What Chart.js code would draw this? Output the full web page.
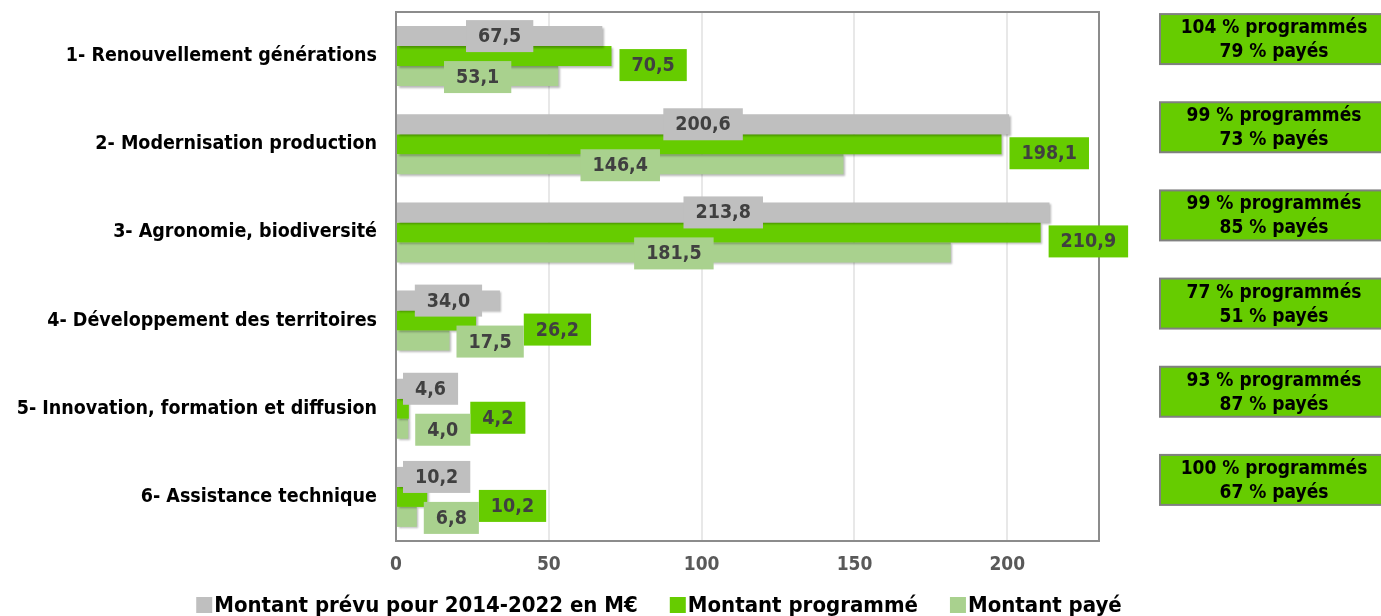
<!DOCTYPE html>
<html>
<head>
<meta charset="utf-8">
<script src="https://cdn.jsdelivr.net/npm/chart.js@4.4.1/dist/chart.umd.min.js"></script>
<style>
  html, body { margin: 0; padding: 0; background: #fff; }
  #wrap { width: 1381px; height: 616px; position: relative; }
</style>
</head>
<body>
<div id="wrap"><canvas id="axesChart"></canvas></div>
<script>
var categories = [
  "1- Renouvellement générations",
  "2- Modernisation production",
  "3- Agronomie, biodiversité",
  "4- Développement des territoires",
  "5- Innovation, formation et diffusion",
  "6- Assistance technique"
];
var montantPrevu = [67.5, 200.6, 213.8, 34.0, 4.6, 10.2];
var montantProgramme = [70.5, 198.1, 210.9, 26.2, 4.2, 10.2];
var montantPaye = [53.1, 146.4, 181.5, 17.5, 4.0, 6.8];
var pctProgramme = [104, 99, 99, 77, 93, 100];
var pctPaye = [79, 73, 85, 51, 87, 67];
var seriesNames = ["Montant prévu pour 2014-2022 en M€", "Montant programmé", "Montant payé"];
var xTicks = [0, 50, 100, 150, 200];

var FONT = "'DejaVu Sans Condensed', 'DejaVu Sans', sans-serif";
var GREY = "#bfbfbf", GREEN = "#66cc00", LIGHT = "#a9d18e";
var seriesColors = [GREY, GREEN, LIGHT];

Chart.defaults.font.family = FONT;
Chart.defaults.font.weight = "bold";

function fmt(v) {
  return v.toFixed(1).replace(".", ",");
}

// soft shadow under the bars, like the office chart
var shadowPlugin = {
  id: "barShadow",
  beforeDatasetDraw: function (chart) {
    var ctx = chart.ctx;
    ctx.save();
    ctx.shadowColor = "rgba(0,0,0,0.28)";
    ctx.shadowOffsetX = 1.5;
    ctx.shadowOffsetY = 1.5;
    ctx.shadowBlur = 2;
  },
  afterDatasetDraw: function (chart) {
    chart.ctx.restore();
  }
};

var framePlugin = {
  id: "frame",
  beforeDatasetsDraw: function (chart) {
    var a = chart.chartArea, ctx = chart.ctx;
    ctx.save();
    ctx.strokeStyle = "#8c8c8c";
    ctx.lineWidth = 2;
    ctx.strokeRect(a.left, a.top, a.right - a.left, a.bottom - a.top);
    ctx.restore();
  }
};

var valueLabels = {
  id: "valueLabels",
  afterDatasetsDraw: function (chart) {
    var ctx = chart.ctx, area = chart.chartArea;
    ctx.save();
    ctx.font = "bold 19.5px " + FONT;
    ctx.textAlign = "center";
    ctx.textBaseline = "middle";
    var h = 32, pad = 12;
    function box(i, j) {
      var el = chart.getDatasetMeta(i).data[j];
      var txt = fmt(chart.data.datasets[i].data[j]);
      return { el: el, txt: txt, w: ctx.measureText(txt).width + pad * 2 };
    }
    function draw(b, color) {
      ctx.fillStyle = color;
      ctx.fillRect(b.left, b.cy - h / 2, b.w, h);
      ctx.fillStyle = "#404040";
      ctx.fillText(b.txt, b.left + b.w / 2, b.cy + 1);
    }
    for (var j = 0; j < categories.length; j++) {
      var g = box(0, j), p = box(1, j), l = box(2, j);

      var gMid = (g.el.base + g.el.x) / 2;
      g.left = Math.max(gMid - g.w / 2, area.left + 7);
      g.cy = g.el.y;

      var lLen = l.el.x - l.el.base;
      l.left = l.w > lLen ? l.el.x + 7 : (l.el.base + l.el.x) / 2 - l.w / 2;
      l.cy = l.el.y + 1;

      p.left = p.el.x + 8;
      p.cy = p.el.y + 9;
      if (p.left < l.left + l.w && p.left + p.w > l.left) p.left = l.left + l.w;

      draw(g, GREY);
      draw(p, GREEN);
      draw(l, LIGHT);
    }
    ctx.restore();
  }
};

var sideBoxes = {
  id: "sideBoxes",
  afterDraw: function (chart) {
    var ctx = chart.ctx, ys = chart.scales.y;
    ctx.save();
    ctx.font = "bold 19px " + FONT;
    ctx.textAlign = "center";
    ctx.textBaseline = "middle";
    for (var j = 0; j < categories.length; j++) {
      var cy = ys.getPixelForValue(j) - 17;
      ctx.fillStyle = GREEN;
      ctx.fillRect(1160, cy - 25, 240, 50);
      ctx.strokeStyle = "#808080";
      ctx.lineWidth = 2;
      ctx.strokeRect(1160, cy - 25, 240, 50);
      ctx.fillStyle = "#000";
      ctx.fillText(pctProgramme[j] + " % programmés", 1274, cy - 11);
      ctx.fillText(pctPaye[j] + " % payés", 1274, cy + 13);
    }
    ctx.restore();
  }
};

var bottomLegend = {
  id: "bottomLegend",
  afterDraw: function (chart) {
    var ctx = chart.ctx;
    ctx.save();
    ctx.font = "bold 22px " + FONT;
    ctx.textBaseline = "middle";
    ctx.textAlign = "left";
    var boxW = 16, gap = 2, spacing = 32, cy = 605;
    var widths = seriesNames.map(function (n) { return boxW + gap + ctx.measureText(n).width; });
    var total = widths.reduce(function (s, w) { return s + w; }, 0) + spacing * (seriesNames.length - 1);
    var x = 659 - total / 2;
    for (var i = 0; i < seriesNames.length; i++) {
      ctx.fillStyle = seriesColors[i];
      ctx.fillRect(x, cy - 8, boxW, boxW);
      ctx.fillStyle = "#000";
      ctx.fillText(seriesNames[i], x + boxW + gap, cy + 1);
      x += widths[i] + spacing;
    }
    ctx.restore();
  }
};

var chartData = {
  labels: categories,
  datasets: [
    { label: seriesNames[0], data: montantPrevu, backgroundColor: GREY },
    { label: seriesNames[1], data: montantProgramme, backgroundColor: GREEN },
    { label: seriesNames[2], data: montantPaye, backgroundColor: LIGHT }
  ]
};

var chartOptions = {
  indexAxis: "y",
  responsive: true,
  maintainAspectRatio: false,
  animation: false,
  layout: { padding: { top: 12, right: 282, bottom: 0, left: 0 } },
  datasets: { bar: { categoryPercentage: 0.68, barPercentage: 1.0 } },
  plugins: {
    legend: { display: false },
    tooltip: { enabled: false }
  },
  scales: {
    x: {
      min: 0,
      max: 230,
      afterBuildTicks: function (s) { s.ticks = xTicks.map(function (v) { return { value: v }; }); },
      afterFit: function (s) { s.height = 75; s.paddingLeft = 0; s.paddingRight = 0; },
      grid: { color: "#e8e8e8", lineWidth: 2, drawTicks: false },
      border: { display: false },
      ticks: { color: "#595959", padding: 13, font: { size: 19, weight: "bold" } }
    },
    y: {
      afterFit: function (s) { s.width = 396; s.paddingTop = 0; s.paddingBottom = 0; },
      grid: { display: false },
      border: { display: false },
      ticks: { color: "#000", padding: 11, font: { size: 19.5, weight: "bold" } }
    }
  }
};

var barChart = new Chart(document.getElementById("axesChart"), {
  type: "bar",
  data: chartData,
  options: chartOptions,
  plugins: [shadowPlugin, framePlugin, valueLabels, sideBoxes, bottomLegend]
});
</script>
</body>
</html>
